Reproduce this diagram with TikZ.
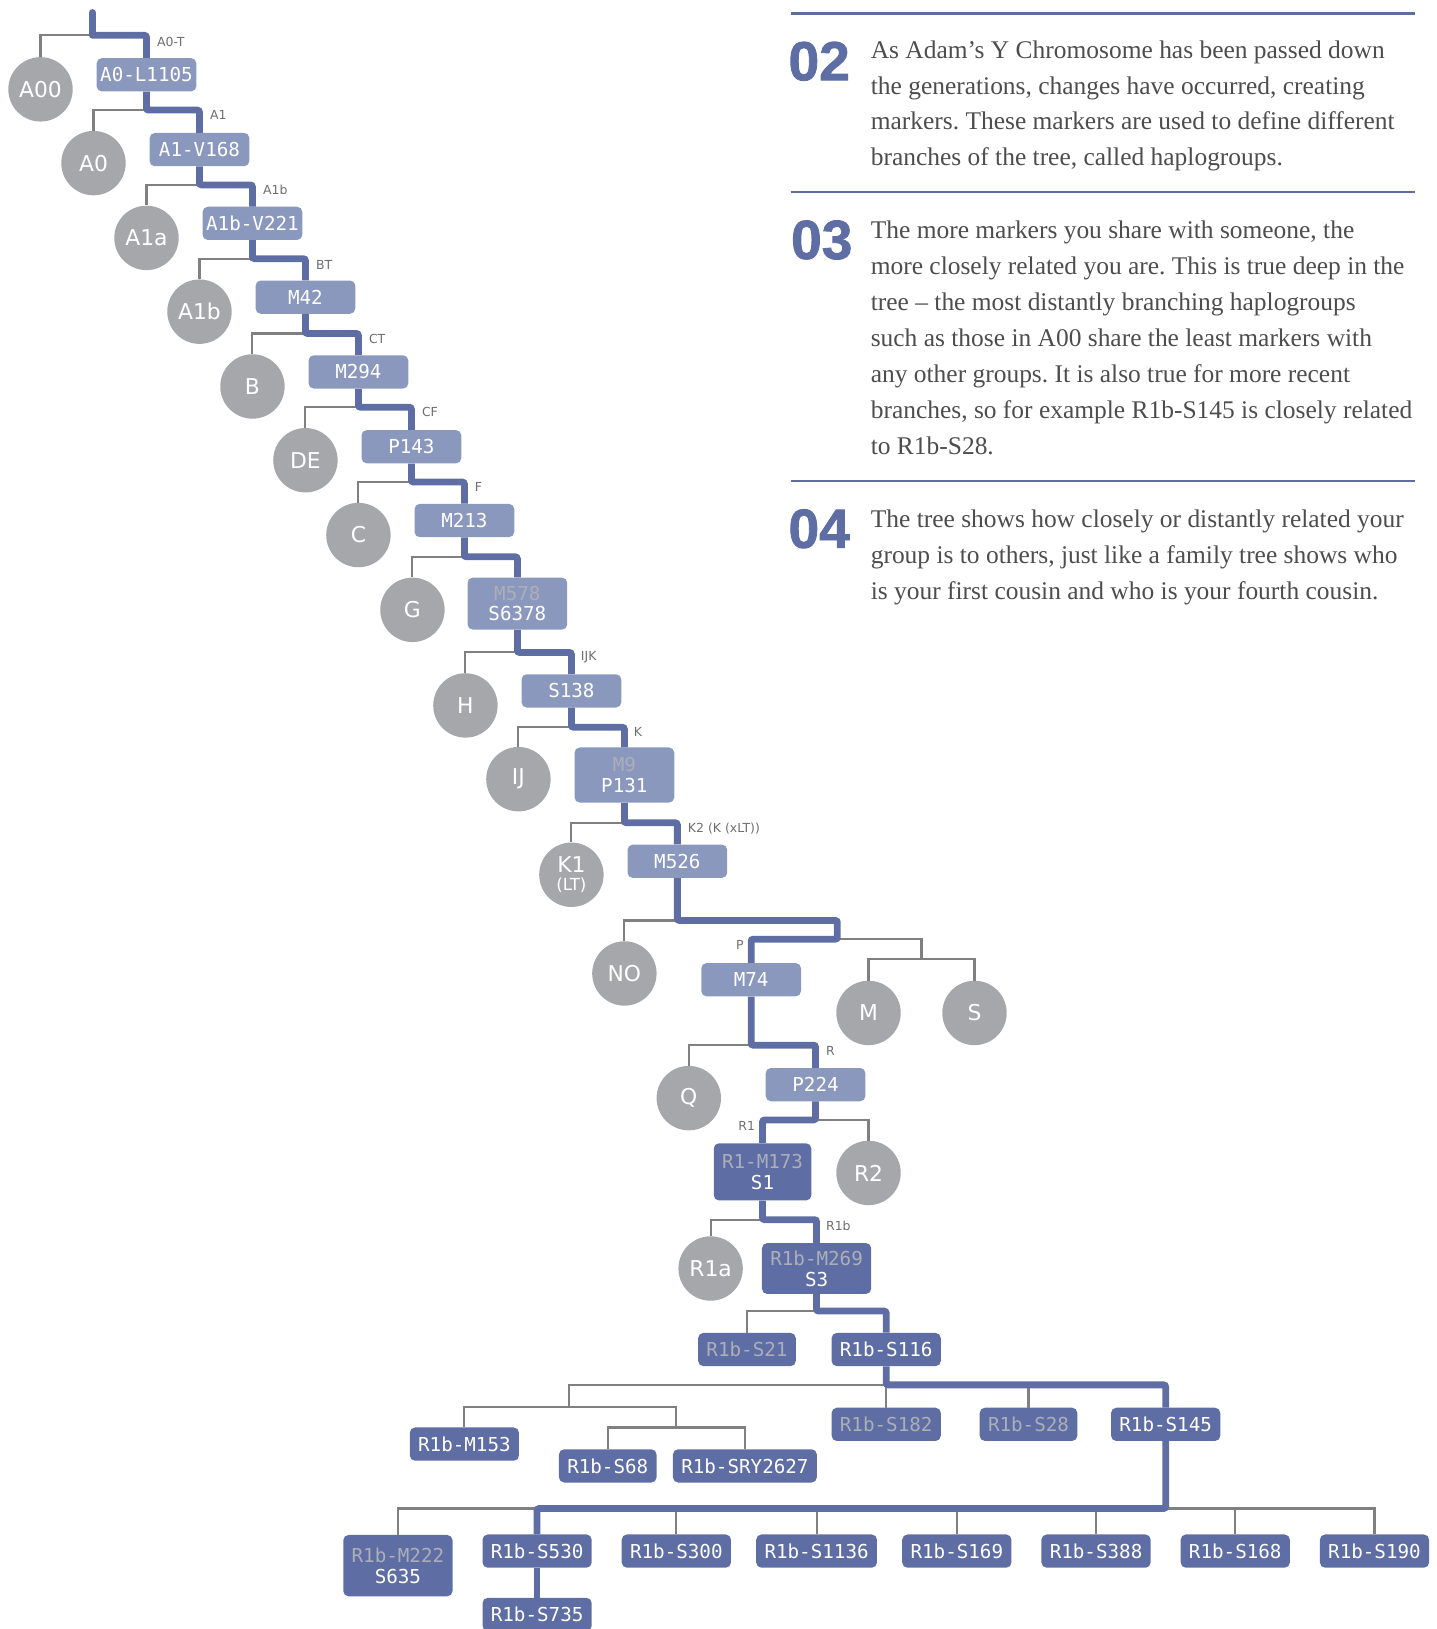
\documentclass[tikz,border=0pt]{standalone}
\usepackage{fontspec}
\setmainfont{Liberation Serif}
\newfontfamily\boxfont{DejaVu Sans Mono}
\newfontfamily\leaffont{DejaVu Sans}
\newfontfamily\numfont[BoldFeatures={FakeBold=1.5}]{Liberation Sans}
\usepackage{tikz}
\usetikzlibrary{positioning}
\definecolor{colTrunk}{RGB}{94,110,164}
\definecolor{colSub}{RGB}{139,152,190}
\definecolor{colLeaf}{RGB}{166,167,170}
\definecolor{colTwig}{RGB}{128,128,128}
\definecolor{colTag}{RGB}{110,110,112}
\definecolor{colDim}{RGB}{172,174,184}
\definecolor{colText}{RGB}{77,77,77}
\frenchspacing

\begin{document}
\begin{tikzpicture}[x=1pt, y=-1pt,
  sub/.style={rectangle, rounded corners=5pt, fill=colSub, text=white,
              font=\boxfont\fontsize{18.5}{20}\selectfont, align=center,
              minimum width=96pt, minimum height=32pt, inner sep=0pt},
  deep/.style={sub, fill=colTrunk, minimum width=0pt, inner xsep=8pt},
  leaf/.style={circle, fill=colLeaf, text=white, minimum size=62pt, inner sep=0pt,
               font=\leaffont\fontsize{21}{20}\selectfont, align=center},
  tag/.style={font=\leaffont\fontsize{12}{13}\selectfont, text=colTag, inner sep=0pt},
  trunk/.style={draw=colTrunk, line width=6.5pt, rounded corners=2pt},
  twig/.style={draw=colTwig, line width=2pt},
  para/.style={anchor=base west, inner sep=0pt, align=left, text=colText,
               font=\fontsize{24.5}{34.5}\selectfont},
  num/.style={text=colTrunk, inner sep=0pt,
              font=\numfont\bfseries\fontsize{53}{53}\selectfont},
  rule/.style={draw=colTrunk, line width=2.5pt},
]
\useasboundingbox (0,0) rectangle (1383,1568);

% main line of descent
\node[sub] (a0l)  at (141,72)  {A0-L1105};
\node[sub] (a1v)  at (192,144) {A1-V168};
\node[sub] (a1bv) at (243,215) {A1b-V221};
\node[sub] (m42)  at (294,286) {M42};
\node[sub] (m294) at (345,358) {M294};
\node[sub] (p143) at (396,430) {P143};
\node[sub] (m213) at (447,501) {M213};
\node[sub, minimum height=50pt] (m578) at (498,581) {\textcolor{colDim}{M578}\\S6378};
\node[sub] (s138) at (550,665) {S138};
\node[sub, minimum height=53pt] (m9) at (601,746) {\textcolor{colDim}{M9}\\P131};
\node[sub] (m526) at (652,829) {M526};
\node[sub] (m74)  at (723,943) {M74};
\node[sub] (p224) at (785,1044) {P224};
\node[deep, minimum height=55pt] (r1)  at (734,1128) {\textcolor{colDim}{R1-M173}\\S1};
\node[deep, minimum height=49pt] (r1b) at (786,1221) {\textcolor{colDim}{R1b-M269}\\S3};
\node[deep] (s21)   at (719,1299) {\textcolor{colDim}{R1b-S21}};
\node[deep] (s116)  at (853,1299) {R1b-S116};
\node[deep] (s182)  at (853,1371) {\textcolor{colDim}{R1b-S182}};
\node[deep] (s28)   at (990,1371) {\textcolor{colDim}{R1b-S28}};
\node[deep] (s145)  at (1122,1371) {R1b-S145};
\node[deep] (m153)  at (447,1390) {R1b-M153};
\node[deep] (s68)   at (585,1411) {R1b-S68};
\node[deep] (sry)   at (717,1411) {R1b-SRY2627};
\node[deep, minimum height=59pt] (m222) at (383,1507) {\textcolor{colDim}{R1b-M222}\\S635};
\node[deep] (s530)  at (517,1493) {R1b-S530};
\node[deep] (s300)  at (651,1493) {R1b-S300};
\node[deep] (s1136) at (786,1493) {R1b-S1136};
\node[deep] (s169)  at (921,1493) {R1b-S169};
\node[deep] (s388)  at (1055,1493) {R1b-S388};
\node[deep] (s168)  at (1189,1493) {R1b-S168};
\node[deep] (s190)  at (1323,1493) {R1b-S190};
\node[deep] (s735)  at (517,1554) {R1b-S735};

% side branches
\node[leaf] (a00) at (39,86)   {A00};
\node[leaf] (a0)  at (90,157)  {A0};
\node[leaf] (a1a) at (141,229) {A1a};
\node[leaf] (a1b) at (192,300) {A1b};
\node[leaf] (hb)  at (243,372) {B};
\node[leaf] (de)  at (294,443) {DE};
\node[leaf] (hc)  at (345,515) {C};
\node[leaf] (hg)  at (397,587) {G};
\node[leaf] (hh)  at (448,679) {H};
\node[leaf] (ij)  at (499,750) {IJ};
\node[leaf] (k1)  at (550,842) {K1\\[-3pt]{\fontsize{16}{16}\selectfont(LT)}};
\node[leaf] (no)  at (601,937) {NO};
\node[leaf] (hm)  at (836,975) {M};
\node[leaf] (hs)  at (938,975) {S};
\node[leaf] (hq)  at (663,1057) {Q};
\node[leaf] (r2)  at (836,1129) {R2};
\node[leaf] (r1a) at (684,1221) {R1a};

% branch names
\node[tag, anchor=west] at (151,40)   {A0-T};
\node[tag, anchor=west] at (202,111)  {A1};
\node[tag, anchor=west] at (253,183)  {A1b};
\node[tag, anchor=west] at (304,255)  {BT};
\node[tag, anchor=west] at (355,326)  {CT};
\node[tag, anchor=west] at (406,397)  {CF};
\node[tag, anchor=west] at (457,469)  {F};
\node[tag, anchor=west] at (559,633)  {IJK};
\node[tag, anchor=west] at (610,705)  {K};
\node[tag, anchor=west] at (662,798)  {K2 (K (xLT))};
\node[tag, anchor=east] at (716,910)  {P};
\node[tag, anchor=west] at (795,1012) {R};
\node[tag, anchor=east] at (727,1084) {R1};
\node[tag, anchor=west] at (795,1180) {R1b};

% junctions
\coordinate (root) at (89,12);
\coordinate (j0)  at (89,34);
\coordinate (j1)  at (141,106);
\coordinate (j2)  at (192,178);
\coordinate (j3)  at (243,249);
\coordinate (j4)  at (294,321);
\coordinate (j5)  at (345,392);
\coordinate (j6)  at (396,464);
\coordinate (j7)  at (447,536);
\coordinate (j8)  at (498,628);
\coordinate (j9)  at (550,700);
\coordinate (j10) at (601,792);
\coordinate (j11) at (652,886);
\coordinate (j12) at (806,904);
\coordinate (jms) at (887,923);
\coordinate (j13) at (723,1006);
\coordinate (j14) at (785,1078);
\coordinate (j15) at (734,1174);
\coordinate (j16) at (786,1262);
\coordinate (j17) at (853,1333);
\coordinate (jl)  at (548,1354);
\coordinate (js)  at (651,1374);
\coordinate (j18) at (1122,1452);

% grey twigs
\draw[twig] (j0) -| (a00);
\draw[twig] (j1) -| (a0);
\draw[twig] (j2) -| (a1a);
\draw[twig] (j3) -| (a1b);
\draw[twig] (j4) -| (hb);
\draw[twig] (j5) -| (de);
\draw[twig] (j6) -| (hc);
\draw[twig] (j7) -| (hg);
\draw[twig] (j8) -| (hh);
\draw[twig] (j9) -| (ij);
\draw[twig] (j10) -| (k1);
\draw[twig] (j11) -| (no);
\draw[twig] (j12) -| (jms);
\draw[twig] (jms) -| (hm);
\draw[twig] (jms) -| (hs);
\draw[twig] (j13) -| (hq);
\draw[twig] (j14) -| (r2);
\draw[twig] (j15) -| (r1a);
\draw[twig] (j16) -| (s21);
\draw[twig] (j17) -| (jl);
\draw[twig] (jl) -| (m153);
\draw[twig] (jl) -| (js);
\draw[twig] (js) -| (s68);
\draw[twig] (js) -| (sry);
\draw[twig] (j17) -- (s182);
\draw[twig] (j17) -| (s28);
\draw[twig] (j18) -| (m222);
\draw[twig] (j18) -| (s300);
\draw[twig] (j18) -| (s1136);
\draw[twig] (j18) -| (s169);
\draw[twig] (j18) -| (s388);
\draw[twig] (j18) -| (s168);
\draw[twig] (j18) -| (s190);

% blue trunk
\draw[trunk, line cap=round] (root) -- (j0);
\draw[trunk] (root) -- (j0) -| (a0l);
\draw[trunk] (a0l) -- (j1) -| (a1v);
\draw[trunk] (a1v) -- (j2) -| (a1bv);
\draw[trunk] (a1bv) -- (j3) -| (m42);
\draw[trunk] (m42) -- (j4) -| (m294);
\draw[trunk] (m294) -- (j5) -| (p143);
\draw[trunk] (p143) -- (j6) -| (m213);
\draw[trunk] (m213) -- (j7) -| (m578);
\draw[trunk] (m578) -- (j8) -| (s138);
\draw[trunk] (s138) -- (j9) -| (m9);
\draw[trunk] (m9) -- (j10) -| (m526);
\draw[trunk] (m526) -- (j11) -| (j12) -| (m74);
\draw[trunk] (m74) -- (j13) -| (p224);
\draw[trunk] (p224) -- (j14) -| (r1);
\draw[trunk] (r1) -- (j15) -| (r1b);
\draw[trunk] (r1b) -- (j16) -| (s116);
\draw[trunk] (s116) -- (j17) -| (s145);
\draw[trunk] (s145) -- (j18) -| (s530);
\draw[trunk] (s530) -- (s735);

% notes on the right (anchored at the last baseline)
\draw[rule] (761,13) -- (1362,13);
\draw[rule] (761,185) -- (1362,185);
\draw[rule] (761,463) -- (1362,463);

\node[num] (n02) at (788.5,59) {02};
\node[para] (t02) at (838,159.5) {As Adam’s Y Chromosome has been passed down\\
  the generations, changes have occurred, creating\\
  markers. These markers are used to define different\\
  branches of the tree, called haplogroups.};

\node[num] (n03) at (791,231) {03};
\node[para] (t03) at (838,437) {The more markers you share with someone, the\\
  more closely related you are. This is true deep in the\\
  tree – the most distantly branching haplogroups\\
  such as those in A00 share the least markers with\\
  any other groups. It is also true for more recent\\
  branches, so for example R1b-S145 is closely related\\
  to R1b-S28.};

\node[num] (n04) at (788.5,509) {04};
\node[para] (t04) at (838,577) {The tree shows how closely or distantly related your\\
  group is to others, just like a family tree shows who\\
  is your first cousin and who is your fourth cousin.};

\end{tikzpicture}
\end{document}
